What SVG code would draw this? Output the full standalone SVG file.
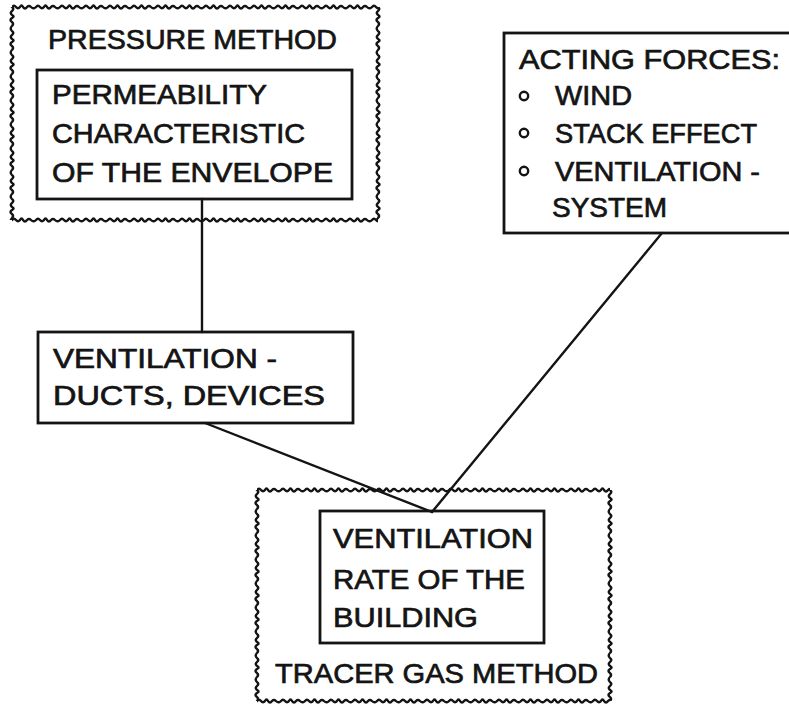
<svg xmlns="http://www.w3.org/2000/svg" width="789" height="705" viewBox="0 0 789 705">
<style>
  text { font-family: "Liberation Sans", Arial, sans-serif; font-size: 28px; fill: #141414; stroke: #141414; stroke-width: 0.7; }
  .box { fill: none; stroke: #141414; stroke-width: 2.8; }
  .conn { fill: none; stroke: #141414; stroke-width: 2.4; stroke-linecap: round; }
  .bullet { fill: none; stroke: #141414; stroke-width: 2.4; }
  .wave { fill: none; stroke: #141414; stroke-width: 2.3; }
</style>
<defs>
  <pattern id="wave" patternUnits="userSpaceOnUse" x="0" y="-5" width="24" height="10">
    <path class="wave" d="M-1 5 L0 5 Q2 2.5 4 5 Q6 7.5 8 5 Q9.5 2 11 5 Q13 8 15 5 Q17 3 19 5 Q21.5 7.5 24 5 L25 5"/>
  </pattern>
</defs>
<rect width="789" height="705" fill="#ffffff"/>

<g id="connectors">
  <line class="conn" x1="202" y1="199" x2="202" y2="332"/>
  <line class="conn" x1="205" y1="423" x2="432" y2="512"/>
  <line class="conn" x1="432" y1="512" x2="662" y2="233"/>
</g>

<g id="pressure-method">
  <rect transform="translate(12,7)" x="0" y="-5" width="366" height="10" fill="url(#wave)"/>
  <rect transform="translate(12,220)" x="0" y="-5" width="366" height="10" fill="url(#wave)"/>
  <rect transform="translate(12,7) rotate(90)" x="0" y="-5" width="213" height="10" fill="url(#wave)"/>
  <rect transform="translate(378,7) rotate(90)" x="0" y="-5" width="213" height="10" fill="url(#wave)"/>
  <text x="48" y="49" textLength="289" lengthAdjust="spacingAndGlyphs">PRESSURE METHOD</text>
</g>

<g id="permeability">
  <rect class="box" x="37" y="70" width="315" height="129" fill="#fff"/>
  <text x="52" y="104" textLength="215" lengthAdjust="spacingAndGlyphs">PERMEABILITY</text>
  <text x="52" y="143" textLength="253" lengthAdjust="spacingAndGlyphs">CHARACTERISTIC</text>
  <text x="52" y="182" textLength="281" lengthAdjust="spacingAndGlyphs">OF THE ENVELOPE</text>
</g>

<g id="acting-forces">
  <rect class="box" x="504" y="33" width="300" height="200"/>
  <text x="519" y="69" textLength="261" lengthAdjust="spacingAndGlyphs">ACTING FORCES:</text>
  <circle class="bullet" cx="524" cy="96" r="4.2"/>
  <text x="555" y="105" textLength="77" lengthAdjust="spacingAndGlyphs">WIND</text>
  <circle class="bullet" cx="524" cy="133" r="4.2"/>
  <text x="555" y="143" textLength="202" lengthAdjust="spacingAndGlyphs">STACK EFFECT</text>
  <circle class="bullet" cx="524" cy="171" r="4.2"/>
  <text x="555" y="181" textLength="205" lengthAdjust="spacingAndGlyphs">VENTILATION -</text>
  <text x="552" y="217" textLength="115" lengthAdjust="spacingAndGlyphs">SYSTEM</text>
</g>

<g id="ventilation-ducts">
  <rect class="box" x="38" y="332" width="315" height="91" fill="#fff"/>
  <text x="53" y="368" textLength="224" lengthAdjust="spacingAndGlyphs">VENTILATION -</text>
  <text x="53" y="405" textLength="272" lengthAdjust="spacingAndGlyphs">DUCTS, DEVICES</text>
</g>

<g id="tracer-gas-method">
  <rect transform="translate(257,490)" x="0" y="-5" width="353" height="10" fill="url(#wave)"/>
  <rect transform="translate(257,701)" x="0" y="-5" width="353" height="10" fill="url(#wave)"/>
  <rect transform="translate(257,490) rotate(90)" x="0" y="-5" width="211" height="10" fill="url(#wave)"/>
  <rect transform="translate(610,490) rotate(90)" x="0" y="-5" width="211" height="10" fill="url(#wave)"/>
  <text x="275" y="683" textLength="323" lengthAdjust="spacingAndGlyphs">TRACER GAS METHOD</text>
</g>

<g id="ventilation-rate">
  <rect class="box" x="320" y="511" width="224" height="132" fill="#fff"/>
  <text x="333" y="548" textLength="200" lengthAdjust="spacingAndGlyphs">VENTILATION</text>
  <text x="333" y="589" textLength="192" lengthAdjust="spacingAndGlyphs">RATE OF THE</text>
  <text x="333" y="627" textLength="145" lengthAdjust="spacingAndGlyphs">BUILDING</text>
</g>
</svg>
